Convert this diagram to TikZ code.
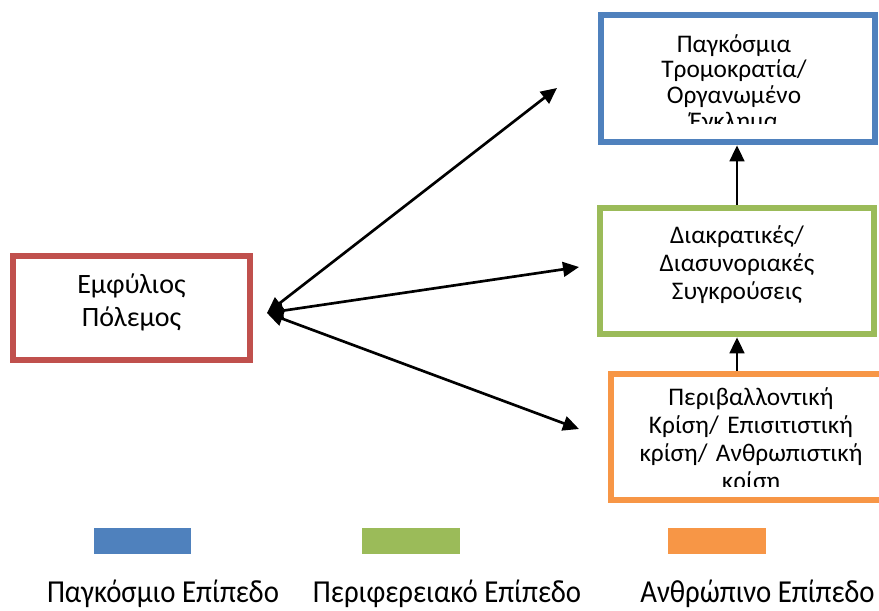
\documentclass[tikz,border=0pt]{standalone}
\usepackage{fontspec}
\setmainfont{Carlito}
\newfontfamily\legendfont[FakeStretch=0.9]{Carlito}
\usepackage{tikz}
\usetikzlibrary{arrows.meta,positioning}
\definecolor{lvblue}{HTML}{4F81BD}
\definecolor{lvgreen}{HTML}{9BBB59}
\definecolor{lvorange}{HTML}{F79646}
\definecolor{lvred}{HTML}{C0504D}

\begin{document}
\begin{tikzpicture}[x=0.75pt,y=-0.75pt,
  levelbox/.style={draw=#1,line width=5pt,fill=white,inner sep=0pt},
  boxtext/.style 2 args={anchor=base,inner sep=0pt,text width=#1,align=center,
    font=\fontsize{19}{#2}\selectfont},
  link/.style={line width=2pt,-{Triangle[length=12pt,width=11pt]}},
  twoway/.style={line width=2pt,{Triangle[length=12pt,width=11pt]}-{Triangle[length=12pt,width=11pt]}},
  swatch/.style={fill=#1,draw=none,minimum width=73pt,minimum height=19.5pt,inner sep=0pt},
  legendtext/.style={font=\legendfont\fontsize{24}{24}\selectfont,anchor=base,inner sep=0pt}]
\useasboundingbox (0,0) rectangle (879,611);

% level boxes
\node[levelbox=lvblue,minimum width=205.5pt,minimum height=95.25pt] (global) at (738,78.5) {};
\node[levelbox=lvgreen,minimum width=205.5pt,minimum height=94.5pt] (regional) at (737,271) {};
\node[levelbox=lvorange,minimum width=210pt,minimum height=94.5pt] (human) at (751,437) {};
\node[levelbox=lvred,minimum width=177.75pt,minimum height=78pt] (civil) at (131.5,308) {};

% box texts (clipped like the text frames)
\begin{scope}
  \clip (605,19) rectangle (871,123);
  \node[boxtext={190pt}{19.3pt}] (globaltext) at (734,52) {Παγκόσμια\\Τρομοκρατία/\\Οργανωμένο\\Έγκλημα};
\end{scope}
\node[boxtext={190pt}{21.2pt}] (regionaltext) at (737,243) {Διακρατικές/\\Διασυνοριακές\\Συγκρούσεις};
\begin{scope}
  \clip (615,378) rectangle (879,486);
  \node[boxtext={190pt}{21pt}] (humantext) at (751,405) {Περιβαλλοντική\\Κρίση/ Επισιτιστική\\κρίση/ Ανθρωπιστική\\κρίση};
\end{scope}
\node[boxtext={160pt}{24.75pt},font=\fontsize{21}{24.75}\selectfont] (civiltext) at (131.5,293) {Εμφύλιος\\Πόλεμος};

% connectors
\coordinate (hub) at (267,313);
\coordinate (toglobal) at (557,88);
\coordinate (toregional) at (579,267);
\coordinate (tohuman) at (579,429);
\draw[twoway] (hub) -- (toglobal);
\draw[twoway] (hub) -- (toregional);
\draw[twoway] (hub) -- (tohuman);
\draw[link] (regional.north) -- (regional.north |- global.south);
\draw[link] (regional.south |- human.north) -- (regional.south);

% legend
\node[swatch=lvblue] (keyglobal) at (142.5,541) {};
\node[swatch=lvgreen] (keyregional) at (411,541) {};
\node[swatch=lvorange] (keyhuman) at (717,541) {};
\node[legendtext] (labelglobal) at (163,602) {Παγκόσμιο Επίπεδο};
\node[legendtext] (labelregional) at (447,602) {Περιφερειακό Επίπεδο};
\node[legendtext] (labelhuman) at (757.5,602) {Ανθρώπινο Επίπεδο};
\end{tikzpicture}
\end{document}
